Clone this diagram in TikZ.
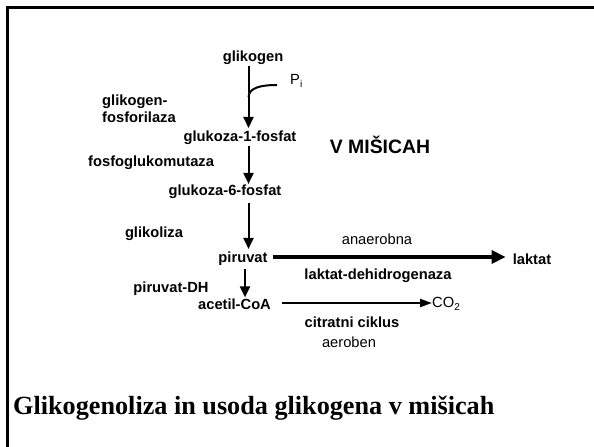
\documentclass[tikz,border=0pt]{standalone}
\usepackage{fontspec}
\setmainfont{Liberation Serif}
\newfontfamily\lsans{Liberation Sans}
\usetikzlibrary{arrows.meta}

\begin{document}
\begin{tikzpicture}[x=1bp,y=-1bp,
  lbl/.style={inner sep=1bp,font=\lsans\bfseries\fontsize{14.7bp}{17bp}\selectfont},
  plain/.style={inner sep=1bp,font=\lsans\fontsize{14.7bp}{17bp}\selectfont},
  arr/.style={line width=2bp,-{Triangle[length=11bp,width=10bp]}},
  bigarr/.style={line width=4.5bp,-{Triangle[length=14bp,width=13bp]}},
  smallarr/.style={line width=2bp,-{Triangle[length=12bp,width=8bp]}}]

\useasboundingbox (0,0) rectangle (594,447);
\fill[white] (0,0) rectangle (594,447);

% slide frame (top and left edges)
\draw[line width=2.5bp] (594,7.5) -- (7.5,7.5) -- (7.5,447);

% metabolites
\node[lbl] (glikogen) at (253,58) {glikogen};
\node[lbl] (g1p) at (240,138) {glukoza-1-fosfat};
\node[lbl] (g6p) at (225,192) {glukoza-6-fosfat};
\node[lbl] (piruvat) at (243,259) {piruvat};
\node[lbl] (laktat) at (532,259) {laktat};
\node[lbl] (acetil) at (234.5,304) {acetil-CoA};
\node[plain,anchor=west,inner sep=0pt] (co2) at (432,304) {CO\raisebox{-0.35ex}{\fontsize{10bp}{12bp}\selectfont 2}};
\node[plain,anchor=west,inner sep=0pt] (pi) at (290,81) {P\raisebox{-0.35ex}{\fontsize{10bp}{12bp}\selectfont i}};

% enzymes and conditions
\node[lbl,anchor=west,align=left] (gfos) at (101,109) {glikogen-\\fosforilaza};
\node[lbl,anchor=west] (pgm) at (87,163) {fosfoglukomutaza};
\node[lbl] (glikoliza) at (154,234) {glikoliza};
\node[lbl] (pdh) at (171,289) {piruvat-DH};
\node[plain] (anaer) at (377,239) {anaerobna};
\node[lbl] (ldh) at (378,276) {laktat-dehidrogenaza};
\node[lbl] (cit) at (352,322) {citratni ciklus};
\node[plain] (aer) at (349,342) {aeroben};
\node[font=\lsans\bfseries\fontsize{19.4bp}{22bp}\selectfont,inner sep=0pt] (misicah) at (380,145) {V MIŠICAH};

% title
\node[anchor=base west,inner sep=0pt,font=\bfseries\fontsize{26.2bp}{30bp}\selectfont] (title) at (13,414) {Glikogenoliza in usoda glikogena v mišicah};

% main pathway
\coordinate (col) at (248.5,0);
\coordinate (col2) at (245,0);
\draw[arr] (col |- 0,66) coordinate (a1s) -- (col |- 0,128) coordinate (a1e);
\coordinate (pjoin) at (248.5,97);
\coordinate (pend) at (277,85);
\draw[line width=2bp] (pjoin) .. controls (249,88) and (260,85) .. (pend);
\draw[arr] (g1p.south -| col) -- (g6p.north -| col);
\draw[arr] ([yshift=-3bp]g6p.south -| col) -- ([yshift=2bp]piruvat.north -| col);
\draw[arr] ([yshift=-2bp]piruvat.south -| col2) -- (acetil.north -| col2);

% branches
\draw[bigarr] ([xshift=4bp]piruvat.east |- 0,257) -- ([xshift=-6bp]laktat.west |- 0,257);
\draw[smallarr] ([xshift=10bp]acetil.east |- 0,303) -- (co2.west |- 0,303);
\end{tikzpicture}
\end{document}
